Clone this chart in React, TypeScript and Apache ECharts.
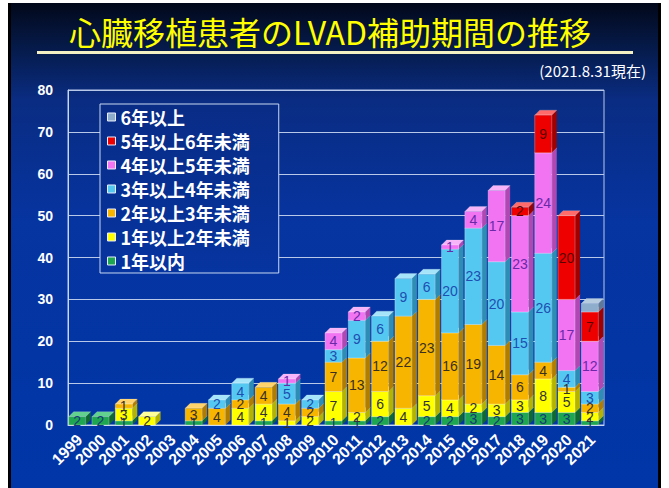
import React, { useEffect, useRef } from "react";
import * as echarts from "echarts";

const years = ["1999","2000","2001","2002","2003","2004","2005","2006","2007","2008","2009","2010","2011","2012","2013","2014","2015","2016","2017","2018","2019","2020","2021"];
const within1 = [2,2,1,0,0,1,0,0,1,0,0,1,1,2,0,2,2,3,2,3,3,3,1];
const y1to2 = [0,0,3,2,0,0,0,4,4,1,2,7,2,6,4,5,4,2,3,3,8,5,2];
const y2to3 = [0,0,1,0,0,3,4,2,4,4,2,7,13,12,22,23,16,19,14,6,4,1,2];
const y3to4 = [0,0,0,0,0,0,2,4,0,5,2,3,9,6,9,6,20,23,20,15,26,4,3];
const y4to5 = [0,0,0,0,0,0,0,0,0,1,0,4,2,0,0,0,1,4,17,23,24,17,12];
const y5to6 = [0,0,0,0,0,0,0,0,0,0,0,0,0,0,0,0,0,0,0,2,9,20,7];
const over6 = [0,0,0,0,0,0,0,0,0,0,0,0,0,0,0,0,0,0,0,0,0,0,2];
const yTicks = { min: 0, max: 80, interval: 10 };

const seriesDefs = [
  { name: "1年以内", values: within1, color: "#1ea650", side: "#0e6a30", top: "#62d08e", label: "#173a78", showLabel: true },
  { name: "1年以上2年未満", values: y1to2, color: "#ffff00", side: "#b4b400", top: "#ffff9a", label: "#333333", showLabel: true },
  { name: "2年以上3年未満", values: y2to3, color: "#f7b500", side: "#b07d00", top: "#ffd36a", label: "#3a3020", showLabel: true },
  { name: "3年以上4年未満", values: y3to4, color: "#55c8f2", side: "#2e8db4", top: "#a6e4fa", label: "#1e4fb0", showLabel: true },
  { name: "4年以上5年未満", values: y4to5, color: "#f274f2", side: "#b048b4", top: "#f8b4f8", label: "#6a2aa8", showLabel: true },
  { name: "5年以上6年未満", values: y5to6, color: "#ee0000", side: "#a00000", top: "#ff6a6a", label: "#5a0000", showLabel: true },
  { name: "6年以上", values: over6, color: "#8eaccc", side: "#5f7a96", top: "#b8cce0", label: "#333333", showLabel: false },
];

export default function App() {
  const ref = useRef<HTMLDivElement>(null);
  useEffect(() => {
    if (!ref.current) return;
    const chart = echarts.init(ref.current, undefined, { renderer: "svg" });
    const cum = years.map(() => 0);
    const series = seriesDefs.map((def) => {
      const data = def.values.map((v, i) => {
        const b = cum[i];
        cum[i] += v;
        return [i, b, b + v, v];
      });
      return {
        type: "custom",
        name: def.name,
        itemStyle: { color: def.color },
        encode: { x: 0, y: [1, 2] },
        data,
        renderItem: (params: any, api: any) => {
          const i = api.value(0);
          const b = api.value(1);
          const t = api.value(2);
          const v = api.value(3);
          if (!v) return null;
          const pb = api.coord([i, b]);
          const pt = api.coord([i, t]);
          const band = api.size([1, 0])[0];
          const fw = band * 0.73;
          const d = 5;
          const x0 = pb[0] - (fw + d) / 2;
          const yb = pb[1];
          const yt = pt[1];
          const children: any[] = [
            {
              type: "polygon",
              shape: { points: [[x0 + fw, yt], [x0 + fw + d, yt - d], [x0 + fw + d, yb - d], [x0 + fw, yb]] },
              style: { fill: def.side },
            },
            {
              type: "polygon",
              shape: { points: [[x0, yt], [x0 + d, yt - d], [x0 + fw + d, yt - d], [x0 + fw, yt]] },
              style: { fill: def.top, stroke: "rgba(255,255,255,0.35)", lineWidth: 0.5 },
            },
            {
              type: "rect",
              shape: { x: x0, y: yt, width: fw, height: yb - yt },
              style: { fill: def.color, stroke: "rgba(255,255,255,0.45)", lineWidth: 0.6 },
            },
          ];
          if (def.showLabel) {
            children.push({
              type: "text",
              z2: 10,
              style: {
                text: String(v),
                x: x0 + fw / 2,
                y: (yt + yb) / 2,
                align: "center",
                verticalAlign: "middle",
                textAlign: "center",
                textVerticalAlign: "middle",
                fill: def.label,
                font: '14px "Liberation Sans", Arial, sans-serif',
              },
            });
          }
          return { type: "group", children };
        },
      };
    });

    const option: any = {
      animation: false,
      graphic: [
        { type: "rect", z: -100, silent: true, shape: { x: 0, y: 0, width: 669, height: 488 }, style: { fill: "#ffffff" } },
        { type: "rect", z: -99, silent: true, shape: { x: 8, y: 3, width: 653, height: 485 }, style: { fill: "#000000" } },
        {
          type: "rect", z: -98, silent: true,
          shape: { x: 11, y: 3, width: 647, height: 485 },
          style: {
            fill: new echarts.graphic.LinearGradient(0, 0, 0, 1, [
              { offset: 0, color: "#02081a" },
              { offset: 0.1, color: "#061c4e" },
              { offset: 0.2, color: "#0a2c82" },
              { offset: 0.45, color: "#0634a0" },
              { offset: 1, color: "#0036a8" },
            ]),
          },
        },
        { type: "rect", z: 5, silent: true, shape: { x: 37, y: 51, width: 596, height: 3 }, style: { fill: "#f4f0c4" } },
        {
          type: "text", z: 5, silent: true, x: 330, y: 31,
          style: {
            text: "心臓移植患者のLVAD補助期間の推移",
            align: "center", verticalAlign: "middle", textAlign: "center", textVerticalAlign: "middle",
            fill: "#ffff00",
            font: '32px "Noto Sans CJK JP", sans-serif',
          },
        },
        {
          type: "text", z: 5, silent: true, x: 646, y: 70,
          style: {
            text: "(2021.8.31現在)",
            align: "right", verticalAlign: "middle", textAlign: "right", textVerticalAlign: "middle",
            fill: "#ffffff",
            font: '15px "Noto Sans CJK JP", sans-serif',
          },
        },
      ],
      grid: { left: 68, right: 65, top: 90, bottom: 63, show: true, borderColor: "#b8c8e8", borderWidth: 1, backgroundColor: "transparent", outerBoundsMode: "none" },
      legend: {
        orient: "vertical",
        left: 100,
        top: 104,
        data: seriesDefs.map((d) => d.name).reverse(),
        icon: "rect",
        itemWidth: 8,
        itemHeight: 8,
        itemGap: 6,
        selectedMode: false,
        padding: [4, 29, 3, 7],
        borderColor: "#c8d8f0",
        borderWidth: 1,
        backgroundColor: new echarts.graphic.LinearGradient(0, 0, 0, 1, [
          { offset: 0, color: "#092c86" },
          { offset: 1, color: "#0634a0" },
        ]),
        itemStyle: { borderColor: "#e8eeff", borderWidth: 1 },
        textStyle: { color: "#ffffff", fontSize: 18, fontWeight: "bold", fontFamily: '"Noto Sans CJK JP", sans-serif' },
      },
      xAxis: {
        type: "category",
        data: years,
        boundaryGap: true,
        axisLine: { lineStyle: { color: "#c8d8f0" } },
        axisTick: { show: false },
        axisLabel: {
          interval: 0, rotate: 45, margin: 12, color: "#ffffff",
          fontWeight: "bold", fontSize: 16, fontFamily: '"Liberation Sans", Arial, sans-serif',
          hideOverlap: false,
        },
        splitLine: { show: false },
      },
      yAxis: {
        type: "value",
        min: yTicks.min,
        max: yTicks.max,
        interval: yTicks.interval,
        axisLine: { show: true, lineStyle: { color: "#c8d8f0" } },
        axisTick: { show: false },
        axisLabel: { margin: 15, color: "#ffffff", fontWeight: "bold", fontSize: 14, fontFamily: "Arial, sans-serif" },
        splitLine: { lineStyle: { color: "#b8c8e8", width: 1 } },
      },
      series,
    };
    chart.setOption(option);
    return () => chart.dispose();
  }, []);
  return (
    <div style={{ position: "absolute", left: 0, top: 0, width: 669, height: 488 }}>
      <div ref={ref} style={{ width: 669, height: 488 }} />
    </div>
  );
}
